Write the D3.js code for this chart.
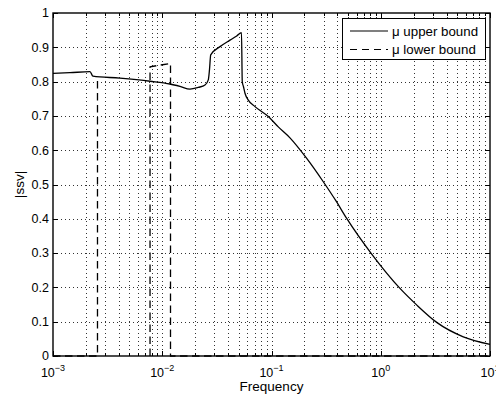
<!DOCTYPE html>
<html><head><meta charset="utf-8">
<script src="https://cdn.jsdelivr.net/npm/d3@7"></script>
<style>body{margin:0;background:#fff}svg{display:block}text{font-family:"Liberation Sans",Arial,Helvetica,sans-serif;fill:#000}</style>
</head><body>
<script>
// ---- data ----
const upperFreq = [0.001,0.00143,0.00218,0.00232,0.0041,0.00773,0.01178,0.01454,0.01795,0.02138,0.02462,0.02639,0.02707,0.02777,0.03378,0.04171,0.04803,0.05313,0.0540,0.05541,0.05719,0.06132,0.07063,0.09348,0.1154,0.1476,0.2101,0.2979,0.3894,0.488,0.8265,1.50,2.13,3.252,5.696,10];
const upperVal  = [0.824,0.826,0.829,0.816,0.810,0.801,0.793,0.786,0.778,0.783,0.790,0.805,0.835,0.878,0.902,0.921,0.933,0.943,0.80,0.785,0.766,0.746,0.727,0.698,0.668,0.636,0.576,0.508,0.452,0.401,0.297,0.197,0.149,0.098,0.056,0.034];
const lowerFreq = [0.001,0.002554,0.002554,0.002554,0.00773,0.00773,0.0095,0.0119,0.0119,10];
const lowerVal  = [0,0,0.814,null,0,0.843,0.848,0.853,0,0];
const yTicks = [0,0.1,0.2,0.3,0.4,0.5,0.6,0.7,0.8,0.9,1];
const yTickLabels = ["0","0.1","0.2","0.3","0.4","0.5","0.6","0.7","0.8","0.9","1"];
const xTicks = [0.001,0.01,0.1,1,10];
const xTickExps = ["\u22123","\u22122","\u22121","0","1"];
const seriesNames = ["\u03bc upper bound","\u03bc lower bound"];
const xLabel = "Frequency", yLabel = "|ssv|";

// ---- layout ----
const W=496,H=399, L=53, T=13, R=490, B=356;
const svg=d3.select("body").append("svg").attr("width",W).attr("height",H);
const x=d3.scaleLog().domain([0.001,10]).range([L,R]);
const y=d3.scaleLinear().domain([0,1]).range([B,T]);

// grid
const minor=[];
for(let e=-3;e<1;e++) for(let m=1;m<10;m++){ const v=m*Math.pow(10,e); if(v>0.001) minor.push({v,major:m===1}); }
const g=svg.append("g");
g.selectAll("line.vg").data(minor).join("line").attr("class","vg")
 .attr("x1",d=>Math.round(x(d.v))+0.5).attr("x2",d=>Math.round(x(d.v))+0.5)
 .attr("y1",T).attr("y2",B).attr("stroke","#333").attr("stroke-width",1).attr("stroke-dasharray","1,3");
g.selectAll("line.hg").data(yTicks.slice(1,-1)).join("line").attr("class","hg")
 .attr("x1",L).attr("x2",R).attr("y1",d=>Math.round(y(d))+0.5).attr("y2",d=>Math.round(y(d))+0.5)
 .attr("stroke","#333").attr("stroke-width",1).attr("stroke-dasharray","1,3");

// axes ticks (inward, all sides)
const ax=svg.append("g");
const xt=minor.concat(xTicks.map(v=>({v,major:true})));
ax.selectAll("line.xb").data(xt).join("line").attr("x1",d=>Math.round(x(d.v))+0.5).attr("x2",d=>Math.round(x(d.v))+0.5)
 .attr("y1",B).attr("y2",d=>B-(d.major?5:3)).attr("stroke","#000");
ax.selectAll("line.xt").data(xt).join("line").attr("x1",d=>Math.round(x(d.v))+0.5).attr("x2",d=>Math.round(x(d.v))+0.5)
 .attr("y1",T).attr("y2",d=>T+(d.major?5:3)).attr("stroke","#000");
ax.selectAll("line.yl").data(yTicks).join("line").attr("x1",L).attr("x2",L+5)
 .attr("y1",d=>Math.round(y(d))+0.5).attr("y2",d=>Math.round(y(d))+0.5).attr("stroke","#000");
ax.selectAll("line.yr").data(yTicks).join("line").attr("x1",R).attr("x2",R-5)
 .attr("y1",d=>Math.round(y(d))+0.5).attr("y2",d=>Math.round(y(d))+0.5).attr("stroke","#000");

// data lines
const line=d3.line().defined(d=>d[1]!==null).x(d=>x(d[0])).y(d=>y(d[1]));
svg.append("path").datum(upperFreq.map((f,i)=>[f,upperVal[i]])).attr("d",line.curve(d3.curveMonotoneX))
 .attr("fill","none").attr("stroke","#000").attr("stroke-width",1.3).attr("stroke-linejoin","round");
svg.append("path").datum(lowerFreq.map((f,i)=>[f,lowerVal[i]])).attr("d",line.curve(d3.curveLinear))
 .attr("fill","none").attr("stroke","#000").attr("stroke-width",1.3).attr("stroke-dasharray","7.5,4.5");

// frame
svg.append("rect").attr("x",L).attr("y",T).attr("width",R-L).attr("height",B-T)
 .attr("fill","none").attr("stroke","#000").attr("stroke-width",1.4);

// tick labels
svg.selectAll("text.yl").data(yTicks).join("text").attr("x",L-4).attr("y",d=>y(d)+4.3)
 .attr("text-anchor","end").attr("font-size",12.5).text((d,i)=>yTickLabels[i]);
const xl=svg.selectAll("text.xl").data(xTicks).join("text").attr("x",d=>x(d)).attr("y",377)
 .attr("text-anchor","middle").attr("font-size",12.5);
xl.append("tspan").text("10");
xl.append("tspan").attr("dy",-6).attr("font-size",9).text((d,i)=>xTickExps[i]);

// axis labels
svg.append("text").attr("x",(L+R)/2).attr("y",391).attr("text-anchor","middle").attr("font-size",13.5).text(xLabel);
svg.append("text").attr("transform",`translate(24,${(T+B)/2}) rotate(-90)`).attr("text-anchor","middle").attr("font-size",13.5).text(yLabel);

// legend
const lg=svg.append("g");
lg.append("rect").attr("x",342.5).attr("y",18.5).attr("width",143).attr("height",41).attr("fill","#fff").attr("stroke","#000");
[0,1].forEach(i=>{
  const yy=31+i*18.5;
  lg.append("line").attr("x1",350).attr("x2",388).attr("y1",yy).attr("y2",yy).attr("stroke","#000").attr("stroke-width",1.2)
    .attr("stroke-dasharray",i?"7,5":null);
  lg.append("text").attr("x",392).attr("y",yy+4.5).attr("font-size",13.3).text(seriesNames[i]);
});
</script>
</body></html>
